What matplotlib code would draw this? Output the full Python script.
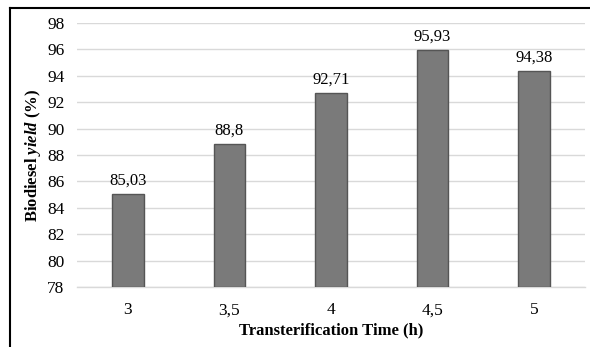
import matplotlib.pyplot as plt
import numpy as np

plt.rcParams['font.family'] = 'Liberation Serif'
plt.rcParams['mathtext.fontset'] = 'custom'
plt.rcParams['mathtext.bfit'] = 'Liberation Serif:italic:bold'
plt.rcParams['mathtext.rm'] = 'Liberation Serif:bold'

# data
times = ['3', '3,5', '4', '4,5', '5']
yields = [85.03, 88.8, 92.71, 95.93, 94.38]
value_labels = ['85,03', '88,8', '92,71', '95,93', '94,38']
yticks = [78, 80, 82, 84, 86, 88, 90, 92, 94, 96, 98]

fig = plt.figure(figsize=(5.9, 3.47), dpi=100)
ax = fig.add_axes([77 / 590, 1 - 287 / 347, 508 / 590, 264 / 347])

x = np.arange(len(times))
bars = ax.bar(x, np.array(yields) - 78, bottom=78, width=0.31,
              color='#7a7a7a', edgecolor='#555555', linewidth=1, zorder=3)

for xi, v, lab in zip(x, yields, value_labels):
    ax.annotate(lab, (xi, v), xytext=(0, 4), textcoords='offset points',
                ha='center', va='bottom', fontsize=12)

ax.set_xlim(-0.5, len(times) - 0.5)
ax.set_ylim(78, 98)
ax.set_yticks(yticks)
ax.set_yticklabels([str(t) for t in yticks])
ax.set_xticks(x)
ax.set_xticklabels(times)
ax.tick_params(axis='both', length=0, labelsize=12.5)
ax.tick_params(axis='y', pad=9)
ax.tick_params(axis='x', pad=11)

ax.grid(axis='y', color='#d9d9d9', linewidth=1, zorder=0)
for s in ['top', 'right', 'left']:
    ax.spines[s].set_visible(False)
ax.spines['bottom'].set_color('#d9d9d9')
ax.spines['bottom'].set_linewidth(1)

ax.set_ylabel(r'Biodiesel $\mathbfit{yield}$ (%)', fontsize=12, fontweight='bold', labelpad=3)
ax.set_xlabel('Transterification Time (h)', fontsize=12, fontweight='bold', labelpad=3)

# outer frame (cut off at right and bottom in the original)
fig.add_artist(plt.Line2D([10 / 590, 10 / 590], [0, 1 - 8 / 347], color='black', linewidth=1.5,
                          transform=fig.transFigure))
fig.add_artist(plt.Line2D([10 / 590, 1], [1 - 8 / 347, 1 - 8 / 347], color='black', linewidth=1.5,
                          transform=fig.transFigure))

fig.savefig('out.png', dpi=100)
